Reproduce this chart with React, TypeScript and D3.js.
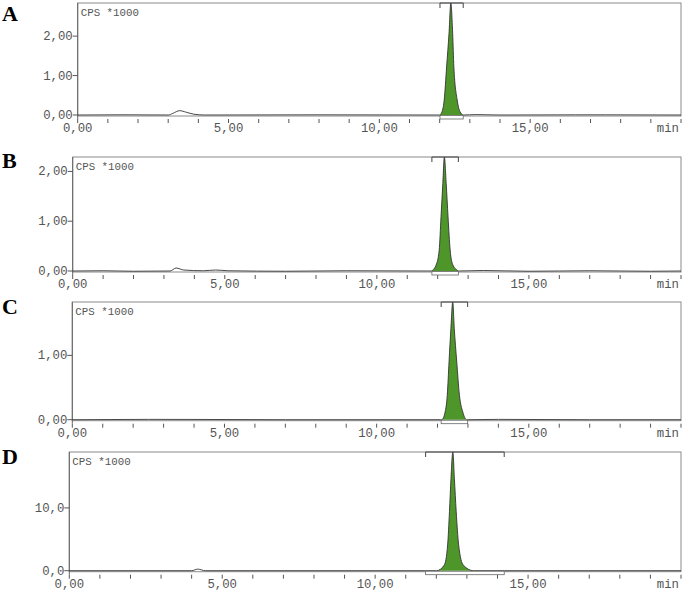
import React from 'react';
import * as d3 from 'd3';

// ---------- data ----------
const panelNames = ['A', 'B', 'C', 'D'];
const yUnitLabel = 'CPS *1000';
const xUnitLabel = 'min';
const xMajorTicks = [0, 5, 10, 15];
const xMajorLabels = ['0,00', '5,00', '10,00', '15,00'];
const xMinorTicks = [0, 1, 2, 3, 4, 5, 6, 7, 8, 9, 10, 11, 12, 13, 14, 15, 16, 17, 18, 19, 20];

const yTicksA = [0, 1, 2];
const yLabelsA = ['0,00', '1,00', '2,00'];
const yTicksB = [0, 1, 2];
const yLabelsB = ['0,00', '1,00', '2,00'];
const yTicksC = [0, 1];
const yLabelsC = ['0,00', '1,00'];
const yTicksD = [0, 10];
const yLabelsD = ['0,0', '10,0'];

// [time (min), signal (CPS*1000)]
const baseA: [number, number][] = [
  [0, 0], [1.5, 0.005], [3.0, 0], [3.15, 0.04], [3.38, 0.11], [3.6, 0.07], [3.85, 0.02], [4.2, 0], [8, 0.004], [11.9, 0], [12.0, 0],
];
const peakA: [number, number][] = [
  [12.0, 0], [12.06, 0.05], [12.15, 0.38], [12.23, 1.22], [12.31, 2.07], [12.37, 2.84],
  [12.43, 2.07], [12.47, 1.22], [12.58, 0.38], [12.67, 0.09], [12.78, 0],
];
const tailA: [number, number][] = [
  [12.78, 0], [13.2, 0.01], [14, 0], [16.5, 0.004], [17.5, 0.004], [20, 0],
];

const baseB: [number, number][] = [
  [0, 0], [1.0, 0.005], [2.0, -0.005], [3.2, 0], [3.4, 0.06], [3.65, 0.02], [4.3, 0.005], [4.7, 0.02], [5.1, 0.005],
  [7, -0.005], [9, 0.005], [11.8, 0],
];
const peakB: [number, number][] = [
  [11.8, 0], [11.84, 0.02], [11.95, 0.12], [12.05, 0.42], [12.11, 1.09], [12.17, 1.76], [12.22, 2.29],
  [12.28, 1.76], [12.34, 1.09], [12.41, 0.42], [12.5, 0.12], [12.63, 0.02], [12.68, 0],
];
const tailB: [number, number][] = [
  [12.68, 0], [13.5, 0.01], [15, -0.005], [17, 0.005], [19, -0.005], [20, 0],
];

const baseC: [number, number][] = [
  [0, 0], [2.5, 0.005], [4, 0.004], [7, 0], [12.1, 0],
];
const peakC: [number, number][] = [
  [12.1, 0], [12.14, 0.0], [12.25, 0.12], [12.32, 0.38], [12.38, 0.91], [12.44, 1.42], [12.5, 1.83],
  [12.55, 1.42], [12.63, 0.91], [12.72, 0.38], [12.83, 0.12], [12.96, 0], [12.99, 0],
];
const tailC: [number, number][] = [
  [12.99, 0], [14, 0.005], [17, 0], [20, 0],
];

const baseD: [number, number][] = [
  [0, 0], [4.0, 0], [4.2, 0.25], [4.45, 0], [11.65, 0],
];
const peakD: [number, number][] = [
  [11.65, 0], [12.01, 0], [12.26, 0.9], [12.37, 4.1], [12.43, 9.4], [12.48, 14.7], [12.54, 18.9],
  [12.59, 14.7], [12.65, 9.4], [12.73, 4.1], [12.88, 0.9], [13.21, 0], [14.22, 0],
];
const tailD: [number, number][] = [
  [14.22, 0], [20, 0],
];

const bracketA = [12.01, 12.78];
const bracketB = [11.81, 12.68];
const bracketC = [12.12, 12.99];
const bracketD = [11.65, 14.22];

// ---------- layout ----------
const W = 685;
const H = 596;
const RIGHT = 681;

type Panel = {
  name: string;
  left: number; top: number; zeroY: number; yMax: number;
  yTicks: number[]; yLabels: string[];
  base: [number, number][]; peak: [number, number][]; tail: [number, number][];
  bracket: number[];
  letterY: number;
};

const panels: Panel[] = [
  { name: panelNames[0], left: 77.7, top: 3, zeroY: 115, yMax: 2.84, yTicks: yTicksA, yLabels: yLabelsA, base: baseA, peak: peakA, tail: tailA, bracket: bracketA, letterY: 21 },
  { name: panelNames[1], left: 72.7, top: 157, zeroY: 271, yMax: 2.29, yTicks: yTicksB, yLabels: yLabelsB, base: baseB, peak: peakB, tail: tailB, bracket: bracketB, letterY: 168 },
  { name: panelNames[2], left: 72.3, top: 302, zeroY: 419.7, yMax: 1.83, yTicks: yTicksC, yLabels: yLabelsC, base: baseC, peak: peakC, tail: tailC, bracket: bracketC, letterY: 314 },
  { name: panelNames[3], left: 69.3, top: 452, zeroY: 570.7, yMax: 18.9, yTicks: yTicksD, yLabels: yLabelsD, base: baseD, peak: peakD, tail: tailD, bracket: bracketD, letterY: 464 },
];

const MONO = "'Liberation Mono', 'Courier New', 'DejaVu Sans Mono', monospace";
const FRAME = '#8a8a8a';
const TICK = '#555';
const TEXT = '#555';
const GREEN = '#4e962a';

function PanelView({ p }: { p: Panel }) {
  const x = d3.scaleLinear().domain([0, 20]).range([p.left, RIGHT]);
  const y = d3.scaleLinear().domain([0, p.yMax]).range([p.zeroY, p.top]);
  const line = d3.line<[number, number]>().x(d => x(d[0])).y(d => y(d[1])).curve(d3.curveMonotoneX);
  const area = d3.area<[number, number]>().x(d => x(d[0])).y0(y(0)).y1(d => y(d[1])).curve(d3.curveMonotoneX);
  const full = [...p.base, ...p.peak.slice(1), ...p.tail.slice(1)];
  const bottom = p.zeroY + 1;
  const bx0 = x(p.bracket[0]);
  const bx1 = x(p.bracket[1]);
  return (
    <g>
      <text x={2} y={p.letterY} fontFamily="'Liberation Serif', 'Times New Roman', serif" fontWeight="bold" fontSize={22} fill="#000">{p.name}</text>
      {/* frame */}
      <rect x={p.left} y={p.top} width={RIGHT - p.left} height={bottom - p.top} fill="#fff" stroke={FRAME} strokeWidth={1} />
      <line x1={p.left} x2={p.left} y1={p.top} y2={bottom + 3} stroke="#666" strokeWidth={1} />
      <text x={p.left + 3} y={p.top + 13} fontFamily={MONO} fontSize={10.8} fill={TEXT}>{yUnitLabel}</text>
      {/* y ticks */}
      {p.yTicks.map((t, i) => (
        <g key={'y' + i}>
          <line x1={p.left - 5} x2={p.left} y1={y(t)} y2={y(t)} stroke={TICK} strokeWidth={1} />
          <text x={p.left - 5} y={y(t) + 4} textAnchor="end" fontFamily={MONO} fontSize={12.3} fill={TEXT}>{p.yLabels[i]}</text>
        </g>
      ))}
      {/* x ticks */}
      {xMinorTicks.map(t => (
        <line key={'xm' + t} x1={x(t)} x2={x(t)} y1={p.zeroY + 4} y2={p.zeroY + 8} stroke={TICK} strokeWidth={1} />
      ))}
      {xMajorTicks.map((t, i) => (
        <text key={'xl' + t} x={x(t)} y={p.zeroY + 17} textAnchor="middle" fontFamily={MONO} fontSize={12.3} fill={TEXT}>{xMajorLabels[i]}</text>
      ))}
      <text x={RIGHT - 2} y={p.zeroY + 17} textAnchor="end" fontFamily={MONO} fontSize={12.3} fill={TEXT}>{xUnitLabel}</text>
      {/* peak fill */}
      <path d={area(p.peak) || ''} fill={GREEN} stroke="none" />
      {/* trace */}
      <path d={line(full) || ''} fill="none" stroke="#333" strokeWidth={0.9} />
      {/* integration brackets */}
      <path d={`M${bx0},${p.top + 5}V${p.top}H${bx1}V${p.top + 5}`} fill="none" stroke="#444" strokeWidth={1} />
      <rect x={bx0} y={p.zeroY + 0.5} width={bx1 - bx0} height={3.5} fill="#fff" stroke="#666" strokeWidth={0.8} />
    </g>
  );
}

export default function App() {
  return (
    <div style={{ position: 'absolute', left: 0, top: 0 }}>
      <svg width={W} height={H} style={{ display: 'block', background: '#fff' }}>
        {panels.map(p => <PanelView key={p.name} p={p} />)}
      </svg>
    </div>
  );
}
